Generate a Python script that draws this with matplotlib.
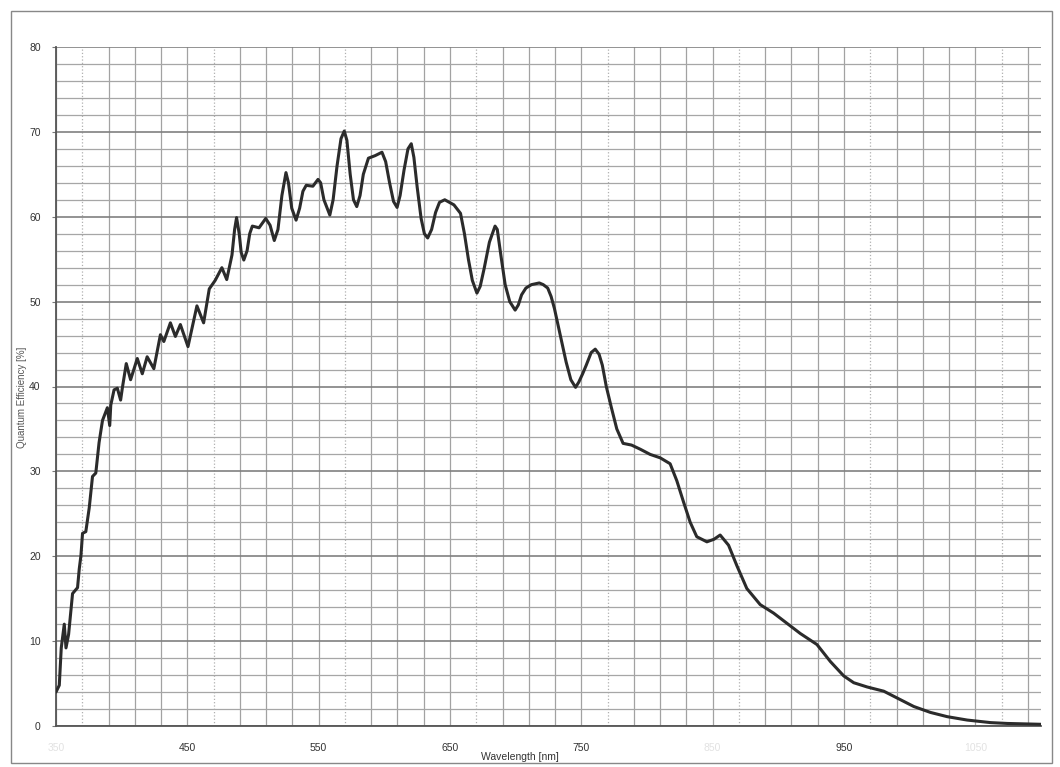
import matplotlib
matplotlib.use("Agg")
import matplotlib.pyplot as plt
from matplotlib.patches import Rectangle
import numpy as np

plt.rcParams['font.family'] = ['Liberation Sans', 'DejaVu Sans']

wavelength_nm = [
    350, 352.5, 354, 356.3, 357.6, 359.6, 362.6, 366.4, 367.7, 369, 370.2, 372.7,
    375.3, 377.8, 380.3, 382.8, 385.4, 389.1, 390.9, 391.7, 394.2, 396.7, 399.2,
    400.5, 403.5, 406.8, 411.9, 415.7, 419.4, 424.5, 429.5, 432.1, 437.1, 440.9,
    444.7, 450.5, 457.3, 462.4, 466.7, 471.2, 476.3, 480, 484, 486, 487.5, 489.5,
    491, 493, 495.5, 497.5, 499.5, 504.6, 509.7, 513, 516.2, 519, 522, 525.1, 527,
    529.5, 532.8, 535.5, 538, 540.5, 545.6, 549.5, 551.5, 554, 558.5, 561, 564,
    567, 569.5, 571.5, 574, 576.5, 579, 581.5, 584, 587.9, 593, 598.2, 601, 604,
    607, 609.7, 612, 615, 618, 620.5, 622.5, 625, 628, 630.5, 633, 636, 639, 642,
    646, 653, 658, 661, 664, 667, 670.5, 673, 676, 680, 684.3, 686, 688.7, 692,
    695.5, 699.6, 702, 704.5, 707.8, 712, 718, 721, 724.4, 727, 729.5, 734, 738.4,
    742, 745.6, 748, 751, 753.7, 757.5, 760.6, 763.5, 766, 769, 772.9, 777, 781.8,
    788.2, 795, 802.4, 810, 817.6, 822.7, 827.8, 832.9, 837.9, 845.6, 851, 855.7,
    862.1, 868.4, 876, 886.2, 896.4, 906.6, 916.7, 929.4, 939.6, 949.8, 957.4,
    967.6, 980.3, 990.4, 1003.1, 1015.8, 1028.6, 1043.8, 1061.6, 1074.3, 1100,
]
quantum_eff = [
    4.0, 4.8, 9.2, 12.0, 9.2, 10.8, 15.6, 16.3, 18.5, 20.1, 22.7, 22.9,
    25.7, 29.4, 29.8, 33.4, 36.0, 37.5, 35.4, 37.8, 39.6, 39.8, 38.4,
    39.8, 42.7, 40.8, 43.3, 41.5, 43.5, 42.1, 46.1, 45.3, 47.5, 45.9,
    47.3, 44.7, 49.5, 47.5, 51.5, 52.5, 54.0, 52.6, 55.5, 58.5, 59.9, 58.0,
    55.8, 54.9, 56.0, 58.0, 58.9, 58.7, 59.8, 59.0, 57.2, 58.5, 62.5, 65.2, 64.0,
    61.0, 59.6, 61.0, 63.0, 63.7, 63.6, 64.4, 64.0, 62.0, 60.2, 62.0, 66.0,
    69.2, 70.1, 69.0, 65.0, 62.0, 61.2, 62.5, 65.0, 66.9, 67.2, 67.6, 66.5, 64.0,
    61.8, 61.1, 62.5, 65.5, 68.0, 68.6, 67.0, 63.5, 59.8, 58.0, 57.5, 58.5, 60.5, 61.7,
    62.0, 61.4, 60.4, 58.0, 55.0, 52.5, 51.0, 51.8, 53.9, 57.0, 58.9, 58.5, 55.5, 52.0,
    50.0, 49.0, 49.6, 50.8, 51.6, 52.0, 52.2, 52.0, 51.6, 50.6, 49.2, 46.0, 42.9,
    40.8, 39.9, 40.5, 41.5, 42.5, 44.0, 44.4, 43.8, 42.5, 40.0, 37.5, 35.0, 33.3,
    33.1, 32.6, 32.0, 31.6, 30.9, 28.9, 26.4, 24.0, 22.3, 21.7, 22.0, 22.5,
    21.3, 18.9, 16.2, 14.3, 13.3, 12.1, 10.9, 9.6, 7.6, 5.9, 5.1,
    4.6, 4.1, 3.3, 2.3, 1.6, 1.1, 0.7, 0.4, 0.3, 0.2,
]

x_tick_values = [350, 450, 550, 650, 750, 850, 950, 1050]
x_tick_faded = [350, 850, 1050]
y_tick_values = [0, 10, 20, 30, 40, 50, 60, 70, 80]

W, H = 1060, 767
fig = plt.figure(figsize=(W / 100, H / 100), dpi=100)
fig.patch.set_facecolor('white')

L, R, T, B = 56, 1041, 47, 726
ax = fig.add_axes([L / W, 1 - B / H, (R - L) / W, (B - T) / H])
ax.set_xlim(350, 1100)
ax.set_ylim(0, 80)

# grid
for xv in np.arange(350, 1101, 20):
    dotted = (xv - 370) % 100 == 0
    ax.axvline(xv, color='#b0b0b0' if dotted else '#a2a2a2', lw=0.9,
               ls=':' if dotted else '-', zorder=1)
for yv in np.arange(0, 81, 2):
    major = yv % 10 == 0
    ax.axhline(yv, color='#808080' if major else '#a6a6a6',
               lw=1.2 if major else 0.9, zorder=1)

ax.plot(wavelength_nm, quantum_eff, color='#2b2b2b', lw=2.2,
        solid_joinstyle='round', solid_capstyle='round', zorder=3)

for s in ['top', 'right']:
    ax.spines[s].set_visible(False)
for s in ['left', 'bottom']:
    ax.spines[s].set_color('#555555')
    ax.spines[s].set_linewidth(1.3)

ax.set_xticks(x_tick_values)
ax.set_xticklabels([str(v) for v in x_tick_values])
for lbl, v in zip(ax.get_xticklabels(), x_tick_values):
    lbl.set_color('#e2e2e2' if v in x_tick_faded else '#333333')
ax.set_yticks(y_tick_values)
ax.set_yticklabels([str(v) for v in y_tick_values])
ax.tick_params(axis='y', labelsize=7.5, length=3, width=0.8,
               color='#777777', pad=8)
ax.tick_params(axis='x', labelsize=7.5, length=0, pad=12)
for lbl in ax.get_yticklabels():
    lbl.set_color('#333333')

fig.text(520 / W, 1 - 757 / H, 'Wavelength [nm]', ha='center', va='center',
         fontsize=7.5, color='#333333')
fig.text(22 / W, 1 - 397 / H, 'Quantum Efficiency [%]', ha='center', va='center',
         rotation=90, fontsize=7, color='#555555')

# scanned page border
fig.add_artist(Rectangle((11 / W, 1 - 763 / H), (1052 - 11) / W, (763 - 11) / H,
                         transform=fig.transFigure, fill=False,
                         edgecolor='#888888', lw=1.0))

fig.savefig('out.png', dpi=100, facecolor='white')
